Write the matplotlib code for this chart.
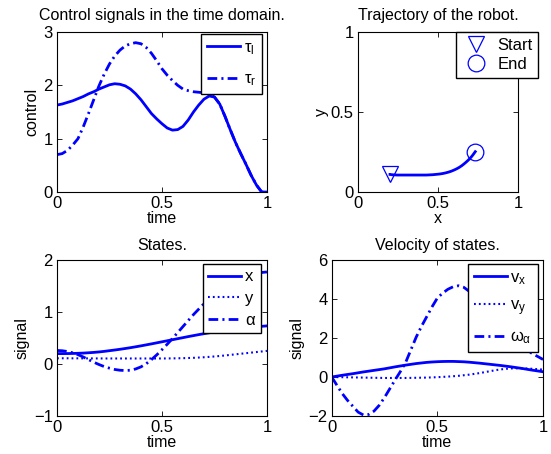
import numpy as np
import matplotlib.pyplot as plt

plt.rcParams['font.family'] = ['Liberation Sans', 'DejaVu Sans']
plt.rcParams['mathtext.fontset'] = 'custom'
plt.rcParams['mathtext.rm'] = 'Liberation Sans'
plt.rcParams['mathtext.it'] = 'Liberation Sans'
plt.rcParams['lines.scale_dashes'] = False
plt.rcParams['axes.unicode_minus'] = True

# sample times (every 0.025)
t = np.linspace(0, 1, 41)

# control signals
tau_l = [1.63, 1.65, 1.68, 1.71, 1.75, 1.79, 1.84, 1.88, 1.93, 1.97,
         2.01, 2.03, 2.02, 1.99, 1.93, 1.84, 1.73, 1.60, 1.47, 1.37,
         1.28, 1.20, 1.16, 1.17, 1.23, 1.35, 1.50, 1.63, 1.74, 1.80,
         1.78, 1.65, 1.42, 1.17, 0.93, 0.72, 0.52, 0.31, 0.13, 0.0, 0.0]
tau_r = [0.70, 0.72, 0.78, 0.88, 1.00, 1.22, 1.47, 1.73, 1.99, 2.21,
         2.40, 2.55, 2.66, 2.74, 2.78, 2.80, 2.78, 2.71, 2.60, 2.46,
         2.31, 2.19, 2.09, 2.00, 1.93, 1.90, 1.88, 1.87, 1.86, 1.83,
         1.78, 1.65, 1.42, 1.17, 0.93, 0.72, 0.52, 0.31, 0.13, 0.0, 0.0]

# states
x_st = [0.200, 0.200, 0.201, 0.203, 0.206, 0.210, 0.216, 0.223, 0.232, 0.243,
        0.256, 0.269, 0.283, 0.298, 0.314, 0.331, 0.349, 0.368, 0.387, 0.407,
        0.427, 0.447, 0.467, 0.487, 0.507, 0.527, 0.546, 0.565, 0.583, 0.600,
        0.617, 0.633, 0.648, 0.662, 0.675, 0.687, 0.698, 0.708, 0.717, 0.725, 0.733]
y_st = [0.110, 0.110, 0.110, 0.109, 0.109, 0.108, 0.108, 0.107, 0.107, 0.106,
        0.106, 0.106, 0.106, 0.106, 0.106, 0.106, 0.106, 0.106, 0.106, 0.106,
        0.106, 0.107, 0.108, 0.110, 0.112, 0.115, 0.119, 0.124, 0.130, 0.137,
        0.145, 0.154, 0.164, 0.175, 0.186, 0.197, 0.208, 0.219, 0.230, 0.241, 0.252]
alpha = [0.26, 0.255, 0.24, 0.215, 0.18, 0.135, 0.085, 0.035, -0.01, -0.05,
         -0.08, -0.105, -0.12, -0.125, -0.12, -0.095, -0.055, 0.005, 0.085, 0.175,
         0.275, 0.38, 0.49, 0.605, 0.72, 0.835, 0.95, 1.055, 1.16, 1.26,
         1.35, 1.435, 1.51, 1.575, 1.63, 1.675, 1.71, 1.735, 1.75, 1.76, 1.77]

# velocities
vx = [0.0, 0.045, 0.09, 0.13, 0.17, 0.215, 0.26, 0.30, 0.34, 0.38,
      0.42, 0.47, 0.52, 0.565, 0.61, 0.65, 0.69, 0.72, 0.75, 0.77,
      0.785, 0.795, 0.80, 0.80, 0.79, 0.78, 0.76, 0.735, 0.71, 0.68,
      0.65, 0.62, 0.59, 0.555, 0.52, 0.48, 0.44, 0.395, 0.35, 0.31, 0.27]
vy = [0.0, -0.005, -0.01, -0.015, -0.02, -0.025, -0.03, -0.035, -0.04, -0.045,
      -0.05, -0.05, -0.05, -0.05, -0.05, -0.045, -0.04, -0.035, -0.03, -0.02,
      -0.01, 0.005, 0.02, 0.04, 0.06, 0.09, 0.12, 0.16, 0.20, 0.25,
      0.30, 0.35, 0.39, 0.42, 0.44, 0.445, 0.44, 0.435, 0.42, 0.40, 0.38]
w_alpha = [0.0, -0.43, -0.85, -1.2, -1.5, -1.8, -1.95, -1.92, -1.75, -1.45,
           -1.05, -0.6, -0.15, 0.28, 0.75, 1.4, 2.05, 2.6, 3.1, 3.6,
           4.05, 4.3, 4.5, 4.63, 4.68, 4.6, 4.4, 4.17, 3.9, 3.55,
           3.2, 2.85, 2.5, 2.2, 1.9, 1.7, 1.5, 1.35, 1.2, 1.05, 0.9]

blue = '#0000ff'
dashdot = (0, (7, 3, 1.5, 3))
dotted = (0, (1.3, 2.2))
fs_tick = 12
fs_lab = 11.5
fs_title = 11.5
fs_leg = 12


def style(ax):
    ax.tick_params(direction='in', top=True, right=True, length=3.5,
                   width=0.6, labelsize=fs_tick, pad=3)
    for s in ax.spines.values():
        s.set_linewidth(0.8)


fig = plt.figure(figsize=(5.51, 4.54), dpi=100)

# control signals
ax1 = fig.add_axes([0.1034, 0.5771, 0.3811, 0.3524])
ax1.plot(t, tau_l, color=blue, lw=2, label=r'$\tau_l$')
ax1.plot(t, tau_r, color=blue, lw=2, ls=dashdot, label=r'$\tau_r$')
ax1.set_xlim(0, 1)
ax1.set_ylim(0, 3)
ax1.set_xticks([0, 0.5, 1])
ax1.set_xticklabels(['0', '0.5', '1'])
ax1.set_yticks([0, 1, 2, 3])
ax1.set_xlabel('time', fontsize=fs_lab, labelpad=0)
ax1.set_ylabel('control', fontsize=fs_lab, labelpad=3)
ax1.set_title('Control signals in the time domain.', fontsize=fs_title, pad=9)
ax1.legend(loc='upper right', bbox_to_anchor=(0.975, 0.986), borderaxespad=0,
           fontsize=fs_leg, handlelength=2.0, fancybox=False, framealpha=1,
           edgecolor='black', borderpad=0.35, labelspacing=0.9, handletextpad=0.2)
style(ax1)

# trajectory
ax2 = fig.add_axes([0.6497, 0.5771, 0.2904, 0.3524])
ax2.plot(x_st, y_st, color=blue, lw=2)
ax2.plot(x_st[0], y_st[0], ls='none', marker='v', ms=12, mfc='none',
         mec=blue, mew=0.9, label='Start')
ax2.plot(x_st[-1], y_st[-1], ls='none', marker='o', ms=12, mfc='none',
         mec=blue, mew=0.9, label='End')
ax2.set_xlim(0, 1)
ax2.set_ylim(0, 1)
ax2.set_xticks([0, 0.5, 1])
ax2.set_xticklabels(['0', '0.5', '1'])
ax2.set_yticks([0, 0.5, 1])
ax2.set_yticklabels(['0', '0.5', '1'])
ax2.set_xlabel('x', fontsize=fs_lab, labelpad=0)
ax2.set_ylabel('y', fontsize=fs_lab, labelpad=1)
ax2.set_title('Trajectory of the robot.', fontsize=fs_title, pad=9)
ax2.legend(loc='upper right', bbox_to_anchor=(1.127, 1.0), borderaxespad=0,
           fontsize=fs_leg, handlelength=1.6, fancybox=False, framealpha=1,
           edgecolor='black', borderpad=0.35, labelspacing=0.25, handletextpad=0.5)
style(ax2)

# states
ax3 = fig.add_axes([0.1034, 0.0837, 0.3811, 0.3436])
ax3.plot(t, x_st, color=blue, lw=2, label='x')
ax3.plot(t, y_st, color=blue, lw=1.5, ls=dotted, label='y')
ax3.plot(t, alpha, color=blue, lw=2, ls=dashdot, label=r'$\alpha$')
ax3.set_xlim(0, 1)
ax3.set_ylim(-1, 2)
ax3.set_xticks([0, 0.5, 1])
ax3.set_xticklabels(['0', '0.5', '1'])
ax3.set_yticks([-1, 0, 1, 2])
ax3.set_xlabel('time', fontsize=fs_lab, labelpad=0)
ax3.set_ylabel('signal', fontsize=fs_lab, labelpad=3)
ax3.set_title('States.', fontsize=fs_title, pad=7)
ax3.legend(loc='upper right', bbox_to_anchor=(0.971, 0.972), borderaxespad=0,
           fontsize=fs_leg, handlelength=2.0, fancybox=False, framealpha=1,
           edgecolor='black', borderpad=0.3, labelspacing=0.4, handletextpad=0.2)
style(ax3)

# velocities
ax4 = fig.add_axes([0.602, 0.0837, 0.3835, 0.3436])
ax4.plot(t, vx, color=blue, lw=2, label=r'$v_x$')
ax4.plot(t, vy, color=blue, lw=1.5, ls=dotted, label=r'$v_y$')
ax4.plot(t, w_alpha, color=blue, lw=2, ls=dashdot, label=r'$\omega_\alpha$')
ax4.set_xlim(0, 1)
ax4.set_ylim(-2, 6)
ax4.set_xticks([0, 0.5, 1])
ax4.set_xticklabels(['0', '0.5', '1'])
ax4.set_yticks([-2, 0, 2, 4, 6])
ax4.set_xlabel('time', fontsize=fs_lab, labelpad=0)
ax4.set_ylabel('signal', fontsize=fs_lab, labelpad=3)
ax4.set_title('Velocity of states.', fontsize=fs_title, pad=7)
ax4.legend(loc='upper right', bbox_to_anchor=(0.975, 0.974), borderaxespad=0,
           fontsize=fs_leg, handlelength=2.0, fancybox=False, framealpha=1,
           edgecolor='black', borderpad=0.35, labelspacing=0.7, handletextpad=0.2)
style(ax4)

fig.savefig('out.png', dpi=100)
